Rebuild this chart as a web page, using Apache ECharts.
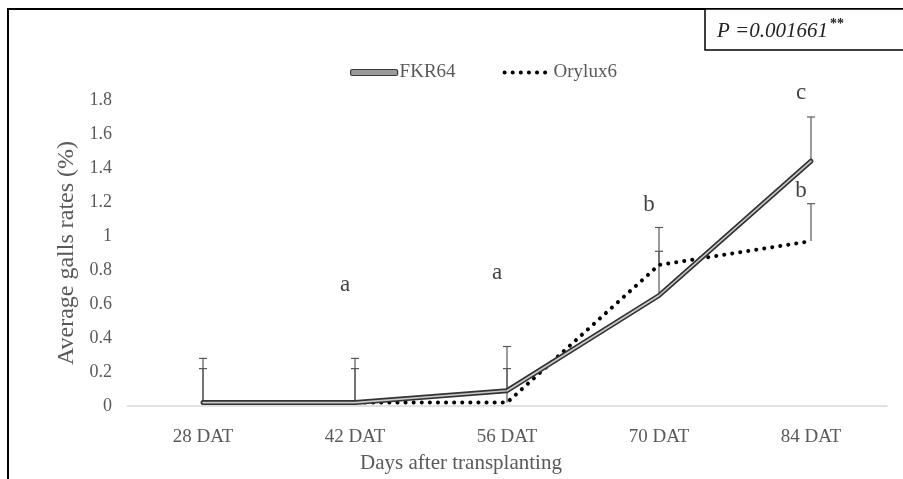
<!DOCTYPE html>
<html>
<head>
<meta charset="utf-8">
<script src="https://cdn.jsdelivr.net/npm/echarts@6/dist/echarts.min.js"></script>
<style>
html,body{margin:0;padding:0;background:#fff;}
#chart{width:903px;height:479px;}
</style>
</head>
<body>
<div id="chart"></div>
<script>
const categories = ['28 DAT', '42 DAT', '56 DAT', '70 DAT', '84 DAT'];
const yTicks = [0, 0.2, 0.4, 0.6, 0.8, 1, 1.2, 1.4, 1.6, 1.8];
const fkr64 = [0.02, 0.02, 0.09, 0.65, 1.44];
const orylux6 = [0.02, 0.02, 0.02, 0.83, 0.97];
const fkr64Upper = [0.28, 0.28, 0.35, 1.05, 1.70];
const orylux6Upper = [0.22, 0.22, 0.22, 0.91, 1.19];
const letterText = ['a', 'a', 'b', 'c', 'b'];
const letterCat = [1, 2, 3, 4, 4];
const letterVal = [0.72, 0.79, 1.19, 1.85, 1.27];
const pText = 'P =0.001661';
const pStars = '**';

const FONT = '"Liberation Serif", "Times New Roman", serif';
const GRAY = '#595959';

const chart = echarts.init(document.getElementById('chart'), null, {renderer: 'canvas'});

function errData(vals, uppers) {
  return vals.map((v, i) => [i, v, uppers[i]]);
}
function errRender(params, api) {
  const x = api.value(0), lo = api.value(1), hi = api.value(2);
  const p0 = api.coord([x, lo]);
  const p1 = api.coord([x, hi]);
  return {
    type: 'group',
    children: [
      {type: 'line', shape: {x1: p0[0], y1: p0[1], x2: p1[0], y2: p1[1]}, style: {stroke: GRAY, lineWidth: 1.2}},
      {type: 'line', shape: {x1: p1[0] - 4, y1: p1[1], x2: p1[0] + 4, y2: p1[1]}, style: {stroke: GRAY, lineWidth: 1.2}}
    ]
  };
}

const option = {
  backgroundColor: '#fff',
  animation: false,
  textStyle: {fontFamily: FONT},
  grid: {left: 127, right: 16, top: 100, bottom: 73, containLabel: false},
  title: {
    text: 'Days after transplanting',
    left: 456, top: 448, textAlign: 'center',
    textStyle: {fontFamily: FONT, fontSize: 21, fontWeight: 'normal', color: GRAY}
  },
  legend: {
    data: [
      {name: 'FKR64', icon: 'roundRect', itemStyle: {color: '#9a9a9a', borderColor: '#3a3a3a', borderWidth: 1.2}},
      {name: 'Orylux6', itemStyle: {opacity: 0},
       lineStyle: {color: '#000', width: 4, type: [0.1, 8], cap: 'round'}}
    ],
    left: 345, top: 58,
    itemWidth: 47, itemHeight: 6, itemGap: 47,
    textStyle: {fontFamily: FONT, fontSize: 19, color: GRAY, padding: [0, 0, 0, -3]}
  },
  xAxis: {
    type: 'category',
    data: categories,
    boundaryGap: true,
    axisLine: {lineStyle: {color: '#d9d9d9', width: 1.5}},
    axisTick: {show: false},
    axisLabel: {fontFamily: FONT, fontSize: 19, color: GRAY, margin: 22}
  },
  yAxis: {
    type: 'value',
    min: 0, max: 1.8, interval: 0.2,
    name: 'Average galls rates (%)',
    nameLocation: 'middle',
    nameGap: 48,
    nameTextStyle: {fontFamily: FONT, fontSize: 24, color: GRAY},
    axisLine: {show: false},
    axisTick: {show: false},
    splitLine: {show: false},
    axisLabel: {
      fontFamily: FONT, fontSize: 18, color: GRAY, margin: 15,
      formatter: function (v) {
        const t = yTicks.find(k => Math.abs(k - v) < 1e-6);
        return t === undefined ? '' : String(t);
      }
    }
  },
  series: [
    {
      name: 'errF', type: 'custom', z: 1,
      data: errData(fkr64, fkr64Upper), renderItem: errRender, silent: true
    },
    {
      name: 'errO', type: 'custom', z: 1,
      data: errData(orylux6, orylux6Upper), renderItem: errRender, silent: true
    },
    {
      name: 'Orylux6', type: 'line', z: 2,
      data: orylux6, symbol: 'none',
      lineStyle: {color: '#000', width: 4, type: [0.1, 8], cap: 'round'},
      itemStyle: {color: '#000'}
    },
    {
      name: 'FKR64', type: 'line', z: 3,
      data: fkr64, symbol: 'none',
      lineStyle: {color: '#333', width: 5, cap: 'round', join: 'round'},
      itemStyle: {color: '#333'}
    },
    {
      name: 'FKR64inner', type: 'line', z: 4,
      data: fkr64, symbol: 'none', silent: true,
      lineStyle: {color: '#c8c8c8', width: 1.6, cap: 'round', join: 'round'}
    },
    {
      name: 'letters', type: 'scatter', z: 5, clip: false, silent: true,
      symbolSize: 0,
      data: letterCat.map((c, i) => ({value: [c, letterVal[i]], name: letterText[i]})),
      label: {
        show: true, position: 'inside', offset: [-10, 1],
        formatter: p => p.name,
        fontFamily: FONT, fontSize: 23, color: '#111'
      }
    }
  ],
  graphic: [
    {type: 'rect', z: 100, shape: {x: 8, y: 9, width: 1000, height: 1000}, style: {fill: 'none', stroke: '#000', lineWidth: 2}},
    {type: 'rect', z: 101, shape: {x: 705, y: 9, width: 300, height: 41}, style: {fill: '#fff', stroke: '#000', lineWidth: 1.5}},
    {type: 'text', z: 102, x: 717, y: 31, style: {text: pText, font: 'italic 21px ' + FONT, fill: '#222', verticalAlign: 'middle'}},
    {type: 'text', z: 102, x: 830, y: 24, style: {text: pStars, font: 'bold 14px ' + FONT, fill: '#222', verticalAlign: 'middle'}}
  ]
};
chart.setOption(option);
</script>
</body>
</html>
